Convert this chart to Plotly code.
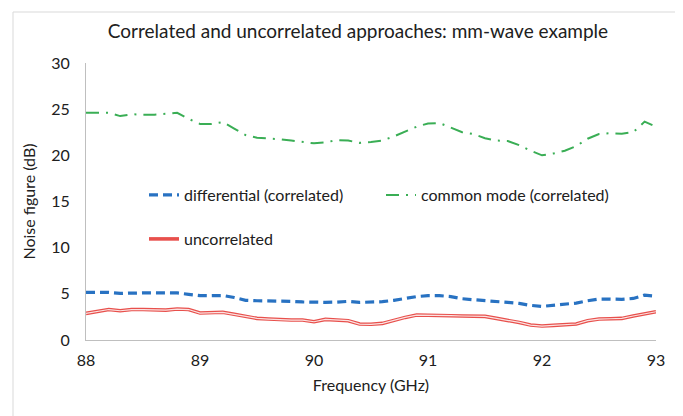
import plotly.graph_objects as go

freq = [round(88 + 0.1 * i, 1) for i in range(51)]

differential = [5.15, 5.15, 5.15, 5.05, 5.1, 5.1, 5.1, 5.1, 5.1, 4.95,
                4.8, 4.8, 4.82, 4.6, 4.3, 4.25, 4.25, 4.25, 4.18, 4.12,
                4.07, 4.08, 4.1, 4.18, 4.07, 4.1, 4.15, 4.3, 4.5, 4.7,
                4.8, 4.8, 4.7, 4.47, 4.36, 4.29, 4.18, 4.07, 3.96, 3.75,
                3.64, 3.75, 3.86, 4.0, 4.25, 4.43, 4.43, 4.4, 4.5, 4.86,
                4.75]

common_mode = [24.6, 24.6, 24.6, 24.25, 24.45, 24.4, 24.4, 24.5, 24.6, 23.95,
               23.4, 23.4, 23.6, 22.9, 22.2, 21.9, 21.85, 21.75, 21.6, 21.45,
               21.3, 21.4, 21.65, 21.6, 21.35, 21.45, 21.6, 22.05, 22.6, 23.1,
               23.45, 23.5, 23.0, 22.5, 22.3, 21.85, 21.6, 21.55, 21.1, 20.5,
               20.0, 20.2, 20.5, 21.0, 21.8, 22.3, 22.4, 22.35, 22.5, 23.65,
               23.1]

uncorrelated = [2.88, 3.13, 3.3, 3.17, 3.3, 3.3, 3.28, 3.24, 3.35, 3.3,
                2.92, 2.92, 3.0, 2.78, 2.56, 2.34, 2.27, 2.2, 2.16, 2.16,
                1.98, 2.23, 2.2, 2.09, 1.73, 1.7, 1.8, 2.16, 2.45, 2.7,
                2.7, 2.67, 2.63, 2.6, 2.6, 2.56, 2.34, 2.16, 1.9, 1.62,
                1.51, 1.58, 1.62, 1.73, 2.09, 2.27, 2.3, 2.34, 2.6, 2.81,
                3.06]

x_ticks = [88, 89, 90, 91, 92, 93]
y_ticks = [0, 5, 10, 15, 20, 25, 30]

BLUE = "#2872C2"
GREEN = "#3AAE55"
RED = "#E8504C"
FONT = "Lato, Open Sans, sans-serif"
TXT = "#202020"

# The page body adds an 8px margin, so the figure is 8px smaller than the window.
W, H = 675, 408
L, T, R, B = 78, 55, 27, 76
PW, PH = W - L - R, H - T - B
BOTTOM = T + PH

fig = go.Figure()

fig.add_trace(go.Scatter(
    x=freq, y=differential, mode="lines", name="differential (correlated)",
    line=dict(color=BLUE, width=3.2, dash="9px,5px"), legend="legend"))
fig.add_trace(go.Scatter(
    x=freq, y=common_mode, mode="lines", name="common mode (correlated)",
    line=dict(color=GREEN, width=2.0, dash="13px,7px,2px,7px"), legend="legend"))
fig.add_trace(go.Scatter(
    x=freq, y=uncorrelated, mode="lines", name="uncorrelated",
    line=dict(color=RED, width=3.6), legend="legend2"))
fig.add_trace(go.Scatter(
    x=freq, y=uncorrelated, mode="lines", name="uncorrelated", showlegend=False,
    line=dict(color="#FBE3E2", width=1.2), legend="legend2", hoverinfo="skip"))

fig.update_layout(
    width=W, height=H,
    margin=dict(l=L, r=R, t=T, b=B),
    paper_bgcolor="white", plot_bgcolor="white",
    font=dict(family=FONT, color=TXT, size=16),
    title=dict(text="Correlated and uncorrelated approaches: mm-wave example",
               x=(358 - 8) / W, xanchor="center", y=1 - 23 / H, yanchor="middle",
               font=dict(family=FONT, size=19, color=TXT)),
    xaxis=dict(range=[88, 93], tickvals=x_ticks, showgrid=False, zeroline=False,
               showline=True, linecolor="#BFBFBF", linewidth=1,
               ticks="outside", ticklen=6, tickcolor="rgba(0,0,0,0)",
               tickfont=dict(size=16, color=TXT),
               title=dict(text="Frequency (GHz)", font=dict(size=16, color=TXT), standoff=11)),
    yaxis=dict(range=[0, 30], tickvals=y_ticks, showgrid=False, zeroline=False,
               showline=True, linecolor="#BFBFBF", linewidth=1,
               ticks="outside", ticklen=12, tickcolor="rgba(0,0,0,0)",
               tickfont=dict(size=16, color=TXT),
               title=dict(text="Noise figure (dB)", font=dict(size=16, color=TXT), standoff=11)),
    legend=dict(orientation="h", x=(136 - L) / PW, y=(BOTTOM - 170) / PH,
                xanchor="left", yanchor="top", bgcolor="rgba(0,0,0,0)",
                entrywidth=192, entrywidthmode="pixels",
                font=dict(size=16, color=TXT)),
    legend2=dict(orientation="h", x=(136 - L) / PW, y=(BOTTOM - 214) / PH,
                 xanchor="left", yanchor="top", bgcolor="rgba(0,0,0,0)",
                 font=dict(size=16, color=TXT)),
    shapes=[dict(type="rect", xref="paper", yref="paper",
                 x0=(5 - L) / PW, x1=(669 - L) / PW,
                 y0=(BOTTOM - 430) / PH, y1=(BOTTOM - 4) / PH,
                 line=dict(color="#D9D9D9", width=1), fillcolor="rgba(0,0,0,0)",
                 layer="below")],
)

fig.write_html("out.html")
